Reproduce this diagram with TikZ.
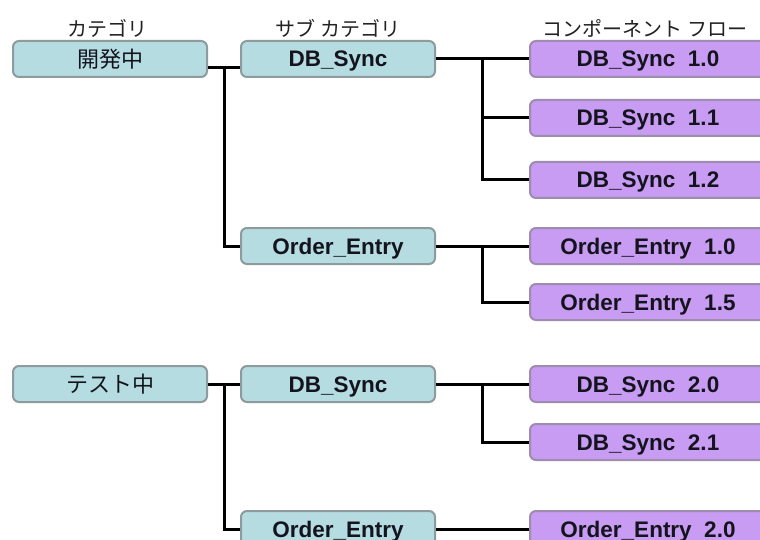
\documentclass[tikz,border=0pt]{standalone}
\usepackage{fontspec}
\setmainfont{Liberation Sans}
\newfontfamily\jp{Noto Sans CJK JP}
\usetikzlibrary{calc}

\definecolor{tealfill}{HTML}{B5DDE1}
\definecolor{tealedge}{HTML}{8E9B9D}
\definecolor{compfill}{HTML}{C89CF2}
\definecolor{compedge}{HTML}{9E8CAE}
\definecolor{labeltext}{HTML}{14141E}
\definecolor{headtext}{HTML}{222222}

\tikzset{
  catbox/.style={draw=tealedge, fill=tealfill, line width=2pt, rounded corners=6pt,
    minimum width=194pt, minimum height=36pt, inner sep=0pt, text=labeltext,
    text height=16.6pt, text depth=0pt,
    font=\jp\fontsize{22}{22}\selectfont},
  subbox/.style={catbox, text height=16pt, font=\bfseries\fontsize{22.5}{22.5}\selectfont},
  compbox/.style={subbox, draw=compedge, fill=compfill, minimum width=236pt},
  link/.style={line width=3pt, black},
  head/.style={inner sep=0pt, text=headtext, font=\jp\fontsize{20}{20}\selectfont}
}

\begin{document}
\begin{tikzpicture}[x=1pt,y=-1pt]
\useasboundingbox (0,0) rectangle (760,540);
\clip (0,0) rectangle (760,540);
\fill[white] (0,0) rectangle (760,540);

% column headings
\node[head] (h1) at (107,28) {カテゴリ};
\node[head] (h2) at (338,28) {サブ カテゴリ};
\node[head] (h3) at (645,28) {コンポーネント フロー};

% first category
\node[catbox]  (c1)  at (110,59)  {開発中};
\node[subbox]  (s1)  at (338,59)  {DB\_Sync};
\node[compbox] (p10) at (648,59)  {DB\_Sync\ \ 1.0};
\node[compbox] (p11) at (648,118) {DB\_Sync\ \ 1.1};
\node[compbox] (p12) at (648,180) {DB\_Sync\ \ 1.2};
\node[subbox]  (s2)  at (338,246) {Order\_Entry};
\node[compbox] (p13) at (648,246) {Order\_Entry\ \ 1.0};
\node[compbox] (p14) at (648,302) {Order\_Entry\ \ 1.5};

% second category
\node[catbox]  (c2)  at (110,384) {テスト中};
\node[subbox]  (s3)  at (338,384) {DB\_Sync};
\node[compbox] (p20) at (648,384) {DB\_Sync\ \ 2.0};
\node[compbox] (p21) at (648,442) {DB\_Sync\ \ 2.1};
\node[subbox]  (s4)  at (338,529) {Order\_Entry};
\node[compbox] (p22) at (648,529) {Order\_Entry\ \ 2.0};

% branch points
\coordinate (j1) at ($(c1.east)!0.5!(s1.west)+(0,9)$);
\coordinate (j2) at ($(c2.east)!0.5!(s3.west)$);
\coordinate (k1) at ($(s1.east)!0.5!(p10.west)$);
\coordinate (k2) at ($(s2.east)!0.5!(p13.west)$);
\coordinate (k3) at ($(s3.east)!0.5!(p20.west)$);

% category to sub category
\draw[link] ([yshift=-9pt]c1.east) -- ([yshift=-9pt]s1.west);
\draw[link] (j1) |- (s2.west);
\draw[link] (c2.east) -- (s3.west);
\draw[link] (j2) |- (s4.west);

% sub category to component flows
\draw[link] (s1.east) -- (p10.west);
\draw[link] (k1) |- (p11.west);
\draw[link] (k1) |- (p12.west);
\draw[link] (s2.east) -- (p13.west);
\draw[link] (k2) |- (p14.west);
\draw[link] (s3.east) -- (p20.west);
\draw[link] (k3) |- (p21.west);
\draw[link] (s4.east) -- (p22.west);
\end{tikzpicture}
\end{document}
